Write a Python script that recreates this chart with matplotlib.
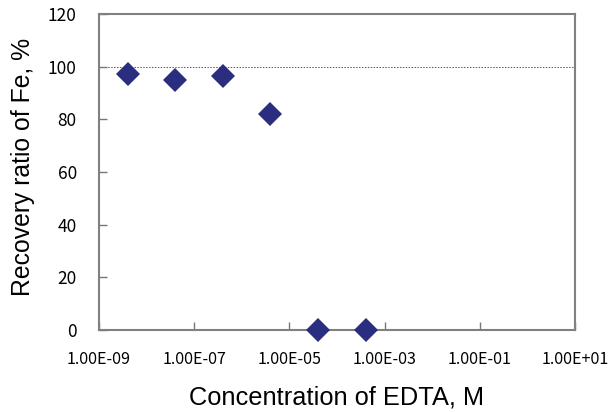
import numpy as np
import matplotlib
matplotlib.use("Agg")
import matplotlib.pyplot as plt
from matplotlib.ticker import FixedLocator, NullLocator

# EDTA concentration (M) and Fe recovery (%)
edta_conc = [4e-9, 4e-8, 4e-7, 4e-6, 4e-5, 4e-4]
fe_recovery = [97.1, 94.8, 96.3, 82.0, 0.0, 0.0]

x_ticks = [1e-9, 1e-7, 1e-5, 1e-3, 1e-1, 1e1]
x_labels = ["1.00E-09", "1.00E-07", "1.00E-05", "1.00E-03", "1.00E-01", "1.00E+01"]
y_ticks = [0, 20, 40, 60, 80, 100, 120]

fig = plt.figure(figsize=(6.09, 4.12), dpi=100)
ax = fig.add_axes([99 / 609, 82 / 412, 476 / 609, 316 / 412])

tick_font = ["Noto Sans CJK JP", "DejaVu Sans"]
label_font = ["Liberation Sans", "DejaVu Sans"]

# reference line at 100 %
ax.axhline(100, color="#555555", linestyle=(0, (1.5, 1.5)), linewidth=0.7, zorder=1)

ax.plot(edta_conc, fe_recovery, linestyle="none", marker="D", markersize=11.8,
        markerfacecolor="#2b2d7e", markeredgewidth=0, clip_on=False, zorder=3)

ax.set_xscale("log")
ax.set_xlim(1e-9, 1e1)
ax.set_ylim(0, 120)

ax.xaxis.set_major_locator(FixedLocator(x_ticks))
ax.xaxis.set_minor_locator(NullLocator())
ax.set_xticklabels(x_labels, fontfamily=tick_font, fontsize=11.6)
ax.set_yticks(y_ticks)
ax.set_yticklabels([str(v) for v in y_ticks], fontfamily=tick_font, fontsize=12.5)

ax.tick_params(axis="both", direction="in", length=6, width=1, color="#777777")
ax.tick_params(axis="x", pad=15)
ax.tick_params(axis="y", pad=16)

for side in ["left", "right", "top", "bottom"]:
    ax.spines[side].set_color("#808080")
    ax.spines[side].set_linewidth(1.5)

ax.set_xlabel("Concentration of EDTA, M", fontfamily=label_font, fontsize=18.3, labelpad=13)
ax.set_ylabel("Recovery ratio of Fe, %", fontfamily=label_font, fontsize=17.8, labelpad=10)
ax.yaxis.set_label_coords(-0.135, 0.515)

fig.savefig("out.png", dpi=100)
